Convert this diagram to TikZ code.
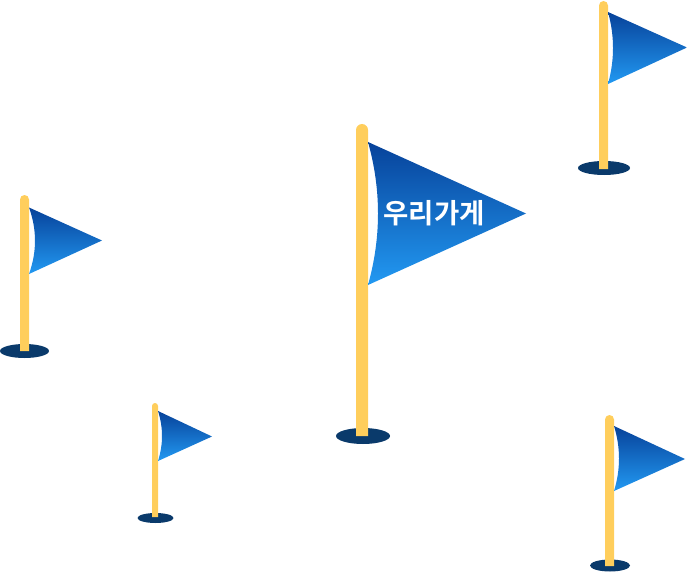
\documentclass[tikz,border=0pt]{standalone}
\usepackage{fontspec}
\newfontfamily\krfont{Noto Sans CJK KR}[BoldFont={Noto Sans CJK KR Bold}]
\definecolor{poleY}{HTML}{FFCE5C}
\definecolor{baseB}{HTML}{0A3A6B}
\definecolor{flagT}{HTML}{07429A}
\definecolor{flagB}{HTML}{2299F2}
\tikzset{
  polebar/.style={fill=poleY,draw=none},
  flagbase/.style={fill=baseB,draw=none},
  flagcloth/.style={top color=flagT,bottom color=flagB,draw=none},
  flaglabel/.style={text=white,font=\krfont\bfseries\fontsize{27.5}{27.5}\selectfont,inner sep=0pt}
}
% #1 pole left, #2 pole right, #3 top, #4 bottom, #5 base cx, #6 base cy, #7 rx, #8 ry,
% #9 flag top y, then tip x, tip y, flag bottom y, bulge
\newcommand{\flagpic}[9]{%
  \fill[flagbase] (#5,#6) ellipse [x radius=#7,y radius=#8];
  \pgfmathsetmacro{\pr}{(#2-#1)/2}
  \fill[polebar] (#1,#4) -- (#1,#3+\pr) arc[start angle=180,end angle=0,x radius=\pr,y radius=-\pr] -- (#2,#4) -- cycle;
  \def\fx{#2}\def\fyt{#9}\flagrest}
\newcommand{\flagrest}[4]{%
  \pgfmathsetmacro{\fym}{(\fyt+#3)/2}
  \pgfmathsetmacro{\fc}{\fx+#4*4/3}
  \shade[flagcloth] (\fx,\fyt) -- (#1,#2) -- (\fx,#3) .. controls (\fc,{#3+(\fyt-#3)/3}) and (\fc,{#3+(\fyt-#3)*2/3}) .. (\fx,\fyt) -- cycle;}
\begin{document}
\begin{tikzpicture}[x=1pt,y=-1pt]
\useasboundingbox (0,0) rectangle (687,572);
\flagpic{356}{368}{124}{436}{363}{436}{27}{8}{142}{526}{213.5}{285}{10}
\flagpic{599}{608}{1}{169}{604}{168}{26}{7}{12}{687}{47.5}{84}{5}
\flagpic{20}{29}{195}{351}{24.5}{351}{24.5}{7}{207.5}{102}{240.5}{274}{6}
\flagpic{152}{158}{403}{517}{155.5}{518}{18}{5}{411}{212}{436.5}{461}{4}
\flagpic{605}{614}{415}{566}{610}{565.5}{20}{6}{426}{685}{459}{491}{5}
\node[flaglabel] (label) at (434,213) {우리가게};
\end{tikzpicture}
\end{document}
